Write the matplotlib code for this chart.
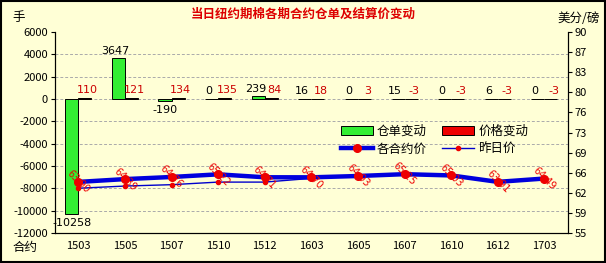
import matplotlib
matplotlib.use("Agg")
import matplotlib.pyplot as plt
from matplotlib.lines import Line2D
from matplotlib.patches import Patch, Rectangle
import numpy as np

plt.rcParams['font.family'] = ['Noto Sans CJK SC', 'DejaVu Sans']

contracts = ['1503', '1505', '1507', '1510', '1512', '1603', '1605', '1607', '1610', '1612', '1703']
warrant_change = [-10258, 3647, -190, 0, 239, 16, 0, 15, 0, 6, 0]
price_change = [110, 121, 134, 135, 84, 18, 3, -3, -3, -3, -3]
settle_price = [63.90, 64.39, 64.76, 65.22, 64.71, 64.70, 64.93, 65.25, 65.03, 63.91, 64.49]
prev_price = [62.80, 63.18, 63.42, 63.87, 63.87, 64.52, 64.90, 65.28, 65.06, 63.94, 64.52]

left_ticks = [6000, 4000, 2000, 0, -2000, -4000, -6000, -8000, -10000, -12000]
right_ticks = [55, 58.5, 62, 65.5, 69, 72.5, 76, 79.5, 83, 86.5, 90]

bg = '#ffffd6'
fig = plt.figure(figsize=(6.06, 2.63), dpi=100, facecolor=bg)
ax = fig.add_axes([0.0908, 0.114, 0.846, 0.764], facecolor=bg)
ax2 = ax.twinx()

x = np.arange(len(contracts))
w = 0.28
ax.bar(x - w / 2, warrant_change, width=w, color='#33ee33', edgecolor='black', linewidth=0.7, zorder=3)
ax.bar(x + w / 2, price_change, width=w, color='#ee0000', edgecolor='black', linewidth=0.7, zorder=3)

ax.set_xlim(-0.5, len(contracts) - 0.5)
ax.set_ylim(-12000, 6000)
ax.set_yticks(left_ticks)
ax.set_yticklabels([str(v) for v in left_ticks])
ax.set_xticks(x)
ax.set_xticklabels(contracts)
ax.tick_params(axis='x', length=0, pad=6, labelsize=8)
ax.tick_params(axis='y', direction='out', length=3, labelsize=8, pad=2)
for v in left_ticks:
    if v not in (6000, -12000):
        ax.axhline(v, color='#aaaaaa', linestyle=(0, (3, 2)), linewidth=0.7, zorder=1)
ax.spines['top'].set_visible(False)
ax2.spines['top'].set_visible(False)

# value labels for bars
for i, v in enumerate(warrant_change):
    if v < 0:
        ax.annotate(str(v), (x[i] - w / 2, v), xytext=(0, -3), textcoords='offset points',
                    ha='center', va='top', fontsize=8, color='black', family='DejaVu Sans')
    else:
        ax.annotate(str(v), (x[i] - w / 2, v), xytext=(-2, 2), textcoords='offset points',
                    ha='center', va='bottom', fontsize=8, color='black', family='DejaVu Sans')
for i, v in enumerate(price_change):
    ax.annotate(str(v), (x[i] + w / 2, max(v, 0)), xytext=(2, 2), textcoords='offset points',
                ha='center', va='bottom', fontsize=8, color='#cc0000', family='DejaVu Sans')

ax2.set_ylim(55, 90)
ax2.set_yticks(right_ticks)
ax2.set_yticklabels([str(int(np.floor(v + 0.5))) for v in right_ticks])
ax2.tick_params(axis='y', direction='out', length=3, labelsize=8, pad=2)

ax2.plot(x, prev_price, color='#0000cc', linewidth=1.0, marker='o', markersize=3,
         markerfacecolor='#ee0000', markeredgecolor='#ee0000', zorder=4)
ax2.plot(x, settle_price, color='#0000dd', linewidth=3.2, marker='o', markersize=5.5,
         markerfacecolor='#ee0000', markeredgecolor='#ee0000', zorder=5)
for i, v in enumerate(settle_price):
    ax2.text(x[i], v, f'{v:.2f}', rotation=-45, ha='center', va='center', fontsize=7,
             color='#ee0000', rotation_mode='anchor', zorder=6, family='DejaVu Sans')

fig.text(0.5, 0.945, '当日纽约期棉各期合约仓单及结算价变动', ha='center', va='center',
         fontsize=9, color='#dd0000', fontweight='bold')
fig.text(0.02, 0.935, '手', ha='left', va='center', fontsize=9)
fig.text(0.99, 0.93, '美分/磅', ha='right', va='center', fontsize=9)
fig.text(0.02, 0.06, '合约', ha='left', va='center', fontsize=9)

handles = [Patch(facecolor='#33ee33', edgecolor='black', linewidth=0.7),
           Line2D([0], [0], color='#0000dd', linewidth=3.2, marker='o', markersize=5.5,
                  markerfacecolor='#ee0000', markeredgecolor='#ee0000'),
           Patch(facecolor='#ee0000', edgecolor='black', linewidth=0.7),
           Line2D([0], [0], color='#0000cc', linewidth=1.0, marker='o', markersize=3,
                  markerfacecolor='#ee0000', markeredgecolor='#ee0000')]
labels = ['仓单变动', '各合约价', '价格变动', '昨日价']
leg = ax2.legend(handles, labels, ncol=2, loc='upper left', bbox_to_anchor=(0.54, 0.58),
                 frameon=False, fontsize=9, handlelength=2.6, handleheight=0.7,
                 columnspacing=1.2, labelspacing=0.35, handletextpad=0.3, borderpad=0.2)
leg.set_zorder(10)

fig.patches.append(Rectangle((0.001, 0.002), 0.997, 0.995, transform=fig.transFigure,
                             fill=False, edgecolor='black', linewidth=1.5))

fig.savefig('out.png', dpi=100, facecolor=bg)
